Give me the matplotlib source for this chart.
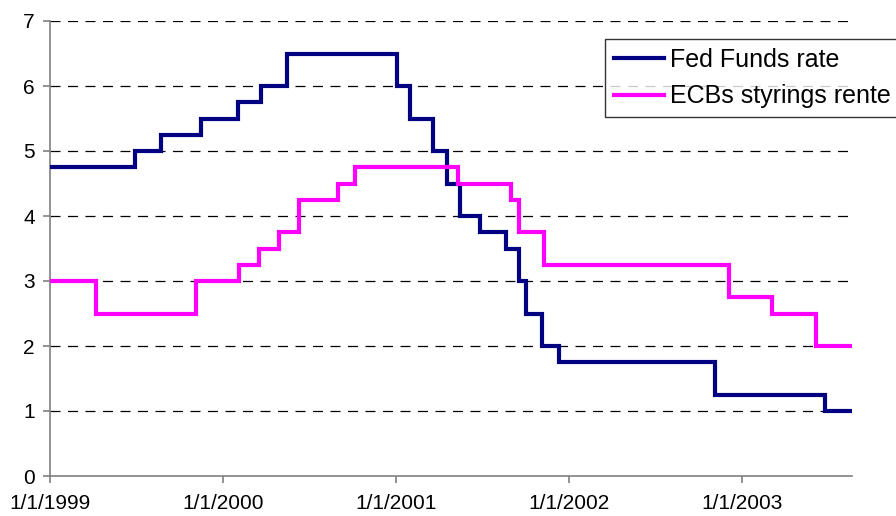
import matplotlib.pyplot as plt
import pandas as pd

plt.rcParams['font.family'] = ['Liberation Sans', 'DejaVu Sans']

# Fed Funds target rate changes
fed_dates = ['1999-01-01', '1999-06-30', '1999-08-24', '1999-11-16', '2000-02-02',
             '2000-03-21', '2000-05-16', '2001-01-03', '2001-01-31', '2001-03-20',
             '2001-04-18', '2001-05-15', '2001-06-27', '2001-08-21', '2001-09-17',
             '2001-10-02', '2001-11-06', '2001-12-11', '2002-11-06', '2003-06-25']
fed_rates = [4.75, 5.00, 5.25, 5.50, 5.75, 6.00, 6.50, 6.00, 5.50, 5.00,
             4.50, 4.00, 3.75, 3.50, 3.00, 2.50, 2.00, 1.75, 1.25, 1.00]

# ECB main refinancing rate changes
ecb_dates = ['1999-01-01', '1999-04-09', '1999-11-05', '2000-02-04', '2000-03-17',
             '2000-04-28', '2000-06-09', '2000-09-01', '2000-10-06', '2001-05-11',
             '2001-08-31', '2001-09-18', '2001-11-09', '2002-12-06', '2003-03-07',
             '2003-06-06']
ecb_rates = [3.00, 2.50, 3.00, 3.25, 3.50, 3.75, 4.25, 4.50, 4.75, 4.50,
             4.25, 3.75, 3.25, 2.75, 2.50, 2.00]

end_date = '2003-08-22'
tick_dates = ['1999-01-01', '2000-01-01', '2001-01-01', '2002-01-01', '2003-01-01']
tick_labels = ['1/1/1999', '1/1/2000', '1/1/2001', '1/1/2002', '1/1/2003']

fed_x = pd.to_datetime(fed_dates + [end_date])
fed_y = fed_rates + [fed_rates[-1]]
ecb_x = pd.to_datetime(ecb_dates + [end_date])
ecb_y = ecb_rates + [ecb_rates[-1]]

fig = plt.figure(figsize=(8.96, 5.16), dpi=100)
ax = fig.add_axes([50 / 896, 40 / 516, 802 / 896, 455 / 516])

ax.plot(fed_x, fed_y, drawstyle='steps-post', color='#000080', lw=3,
        solid_joinstyle='miter', label='Fed Funds rate', zorder=3)
ax.plot(ecb_x, ecb_y, drawstyle='steps-post', color='#FF00FF', lw=3,
        solid_joinstyle='miter', label='ECBs styrings rente', zorder=3)

ax.set_xlim(pd.Timestamp(tick_dates[0]), pd.Timestamp(end_date))
ax.set_ylim(0, 7)
ax.set_yticks(range(0, 8))
ax.set_xticks(pd.to_datetime(tick_dates))
ax.set_xticklabels(tick_labels)

for y in range(1, 8):
    ax.axhline(y, color='black', lw=0.9, dashes=(8, 6), zorder=1)

for side in ['top', 'right']:
    ax.spines[side].set_visible(False)
for side in ['left', 'bottom']:
    ax.spines[side].set_color('#808080')
    ax.spines[side].set_linewidth(1.2)

ax.tick_params(axis='both', labelsize=15, length=5, color='#808080', width=1.2)
ax.tick_params(axis='x', pad=8)
ax.tick_params(axis='y', pad=6)

leg = ax.legend(loc='upper left', bbox_to_anchor=(605 / 896, 1 - 39 / 516),
                bbox_transform=fig.transFigure, fontsize=18, frameon=True,
                fancybox=False, edgecolor='black', handlelength=2.0,
                handletextpad=0.25, borderpad=0.35, labelspacing=0.5,
                borderaxespad=0)
leg.get_frame().set_linewidth(1)

fig.savefig('out.png', dpi=100)
